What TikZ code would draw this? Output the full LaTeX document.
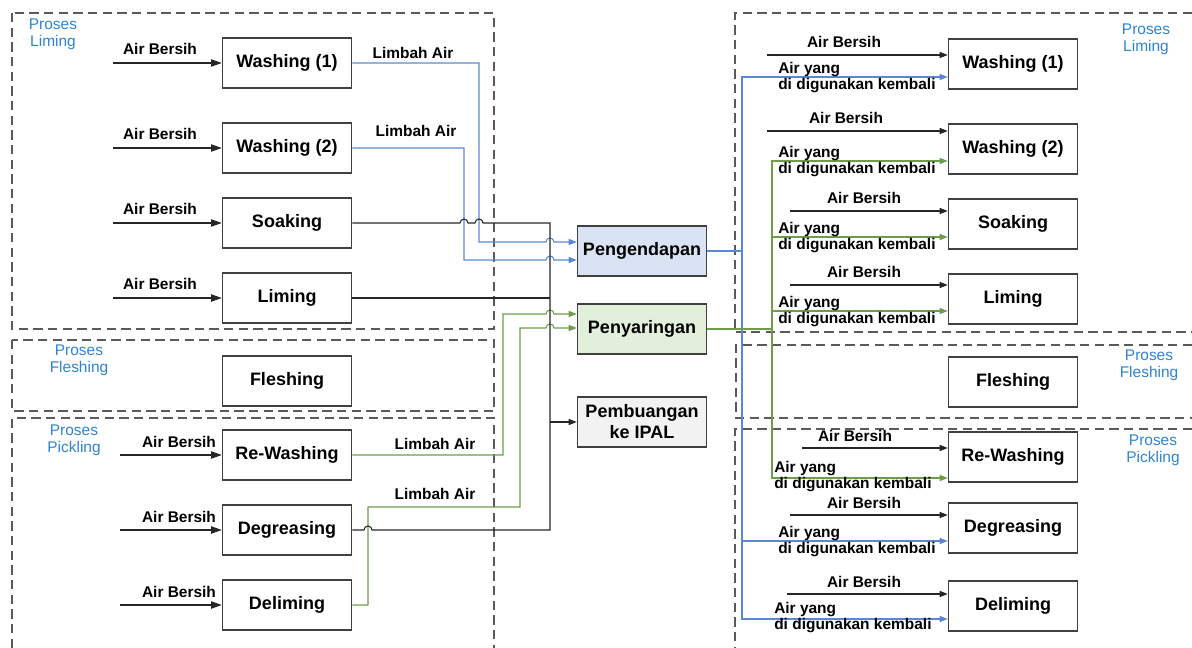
\documentclass[tikz,border=0pt]{standalone}
\usepackage{fontspec}
\setmainfont{Liberation Sans}
\usetikzlibrary{arrows.meta,calc}

\definecolor{limbahblue}{HTML}{5B88D6}
\definecolor{saringgreen}{HTML}{6E9C4A}
\definecolor{prosesblue}{HTML}{2F84CF}
\definecolor{endapfill}{HTML}{DAE3F3}
\definecolor{saringfill}{HTML}{E2EFDA}
\definecolor{buangfill}{HTML}{F2F2F2}
\definecolor{framegray}{HTML}{5A5A5A}

\tikzset{
  proc/.style={draw=black!75, line width=0.9pt, fill=white, minimum width=97pt, minimum height=37.5pt,
    inner sep=2pt, align=center, font=\fontsize{13.5}{15.75}\selectfont\bfseries},
  lbl/.style={inner sep=0pt, font=\fontsize{11.6}{12}\selectfont\bfseries},
  reuse/.style={lbl, align=left, anchor=north west},
  proses/.style={inner sep=0pt, align=center, text=prosesblue, font=\fontsize{11.6}{12.75}\selectfont},
  frame/.style={draw=framegray, line width=0.8pt, dash pattern=on 7pt off 4pt},
  air/.style={draw=black!85, line width=0.8pt},
  bigtip/.style={-{Triangle[length=8pt,width=5.5pt]}},
  tip/.style={-{Triangle[length=6pt,width=4.5pt]}},
  limbah/.style={draw=limbahblue, line width=0.8pt},
  saring/.style={draw=saringgreen, line width=0.8pt},
}

\begin{document}
\begin{tikzpicture}[x=0.75pt,y=-0.75pt]
	\useasboundingbox (0,0) rectangle (1192,648);
	
	% dashed frames, left
	\draw[frame] (12,13) rectangle (494,329);
	\draw[frame] (12,340) rectangle (494,411);
	\draw[frame] (12,648) -- (12,418) -- (494,418) -- (494,648);
	% dashed frames, right
	\draw[frame] (1192,13) -- (735,13) -- (735,332) -- (1192,332);
	\draw[frame] (1192,345) -- (736,345) -- (736,418) -- (1192,418);
	\draw[frame] (1192,429) -- (735,429) -- (735,648);
	
	\node[proses] (pl-l) at (53,34.5) {Proses\\Liming};
	\node[proses] (pf-l) at (79,360.5) {Proses\\Fleshing};
	\node[proses] (pp-l) at (74,440) {Proses\\Pickling};
	\node[proses] (pl-r) at (1146,39.5) {Proses\\Liming};
	\node[proses] (pf-r) at (1149,365.5) {Proses\\Fleshing};
	\node[proses] (pp-r) at (1153,450.5) {Proses\\Pickling};
	
	% process boxes, left
	\node[proc] (lw1) at (287,63) {Washing (1)};
	\node[proc] (lw2) at (287,148) {Washing (2)};
	\node[proc] (ls) at (287,223) {Soaking};
	\node[proc] (ll) at (287,298) {Liming};
	\node[proc] (lf) at (287,381) {Fleshing};
	\node[proc] (lrw) at (287,455) {Re-Washing};
	\node[proc] (ldeg) at (287,530) {Degreasing};
	\node[proc] (ldel) at (287,605) {Deliming};
	
	% treatment
	\node[proc, fill=endapfill] (endap) at (642,251) {Pengendapan};
	\node[proc, fill=saringfill] (saring) at (642,329) {Penyaringan};
	\node[proc, fill=buangfill] (buang) at (642,422) {Pembuangan\\ke IPAL};
	
	% process boxes, right
	\node[proc] (rw1) at (1013,64) {Washing (1)};
	\node[proc] (rw2) at (1013,149) {Washing (2)};
	\node[proc] (rs) at (1013,224) {Soaking};
	\node[proc] (rl) at (1013,299) {Liming};
	\node[proc] (rf) at (1013,382) {Fleshing};
	\node[proc] (rrw) at (1013,457) {Re-Washing};
	\node[proc] (rdeg) at (1013,528) {Degreasing};
	\node[proc] (rdel) at (1013,606) {Deliming};
	
	% air bersih, left
	\foreach \n/\xs/\xl in {lw1/113/160, lw2/113/160, ls/113/160, ll/113/160, lrw/120/179, ldeg/120/179, ldel/120/179} {
		\coordinate (in-\n) at (\xs,0 |- \n.west);
		\draw[air, bigtip] (in-\n) -- (\n.west);
		\node[lbl, anchor=base] (ab-\n) at ($(\xl,0 |- \n.west)+(0,-8)$) {Air Bersih};
	}
	
	% limbah air
	\draw[limbah, tip] (lw1.east) -- (479,63) -- (479,242) -- (546,242)
		arc[start angle=180, end angle=360, radius=4] -- (endap.west |- 0,242);
	\draw[limbah, tip] (lw2.east) -- (464,148) -- (464,260) -- (546,260)
		arc[start angle=180, end angle=360, radius=4] -- (endap.west |- 0,260);
	\node[lbl, anchor=base] (la-w1) at (413,59) {Limbah Air};
	\node[lbl, anchor=base] (la-w2) at (416,137) {Limbah Air};
	
	\draw[saring, tip] (lrw.east) -- (503,455) -- (503,314) -- (546,314)
		arc[start angle=180, end angle=360, radius=4] -- (saring.west |- 0,314);
	\draw[saring, tip] (ldel.east) -- (368,605) -- (368,507) -- (520,507) -- (520,328) -- (546,328)
		arc[start angle=180, end angle=360, radius=4] -- (saring.west |- 0,328);
	\node[lbl, anchor=base] (la-rw) at (435,449) {Limbah Air};
	\node[lbl, anchor=base] (la-del) at (435,499) {Limbah Air};
	
	% langsung ke IPAL
	\draw[air] (ls.east) -- (460,223) arc[start angle=180, end angle=360, radius=4]
		-- (475,223) arc[start angle=180, end angle=360, radius=4] -- (550,223) -- (550,422);
	\draw[air] (ll.east) -- (550,298);
	\draw[air] (ldeg.east) -- (364,530) arc[start angle=180, end angle=360, radius=4]
		-- (550,530) -- (550,422);
	\draw[air, tip] (550,422) -- (buang.west);
	
	% air yang digunakan kembali
	\draw[limbah, tip] (endap.east) -| (742,77) -- (rw1.west |- 0,77);
	\draw[limbah, tip] (742,251) |- (rdeg.west |- 0,541);
	\draw[limbah, tip] (742,251) |- (rdel.west |- 0,619);
	\draw[saring, tip] (saring.east) -| (772,161) -- (rw2.west |- 0,161);
	\draw[saring, tip] (772,329) |- (rs.west |- 0,237);
	\draw[saring, tip] (772,329) |- (rl.west |- 0,311);
	\draw[saring, tip] (772,329) |- (rrw.west |- 0,478);
	
	% air bersih, right
	\foreach \n/\xs/\y/\xl in {rw1/767/55/844, rw2/767/131/846, rs/790/211/864, rl/790/285/864,
		rrw/802/448/855, rdeg/790/515/864, rdel/787/594/864} {
		\coordinate (in-\n) at (\xs,\y);
		\draw[air, tip] (in-\n) -- (\n.west |- 0,\y);
		\node[lbl, anchor=base] (ab-\n) at (\xl,\y-7) {Air Bersih};
	}
	\foreach \n/\xl/\yt in {rw1/778/62, rw2/778/146, rs/778/222, rl/778/296, rrw/774/461, rdeg/778/526, rdel/774/602}
		\node[reuse] (re-\n) at (\xl,\yt) {Air yang\\di digunakan kembali};
\end{tikzpicture}
\end{document}
